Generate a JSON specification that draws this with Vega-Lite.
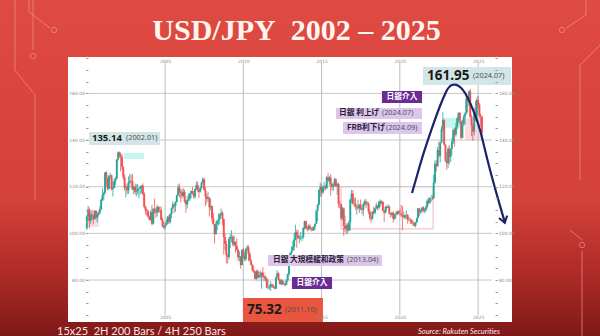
{
 "$schema": "https://vega.github.io/schema/vega-lite/v6.json",
 "width": 444, "height": 265,
 "autosize": "none",
 "padding": {"left": 68, "top": 57, "right": 88, "bottom": 14},
 "background": "#d6413a",
 "config": {"view": {"stroke": null, "fill": null}},
 "resolve": {"axis": {"x": "independent", "y": "independent"}, "scale": {"fill": "independent"}},
 "datasets": {
  "bg": [{"x": "1994-05-01", "x2": "2032-12-31", "y": 55, "y2": 201}],
  "panel": [{"x": "1998-10-19", "x2": "2027-03-03", "y": 62, "y2": 175.6}],
  "traces": [
   {"id": "L1", "i": 1, "x": "1996-04-22", "y": 200.0}, {"id": "L1", "i": 2, "x": "1996-04-22", "y": 194.9}, {"id": "L1", "i": 3, "x": "1997-08-25", "y": 188.0},
   {"id": "L2", "i": 1, "x": "1995-05-31", "y": 200.0}, {"id": "L2", "i": 2, "x": "1995-05-31", "y": 170.0}, {"id": "L2", "i": 3, "x": "1996-09-09", "y": 159.3}, {"id": "L2", "i": 4, "x": "1996-09-09", "y": 114.3},
   {"id": "L3", "i": 1, "x": "1996-07-25", "y": 200.0}, {"id": "L3", "i": 2, "x": "1996-07-25", "y": 178.6},
   {"id": "R1", "i": 1, "x": "2031-11-24", "y": 200.0}, {"id": "R1", "i": 2, "x": "2031-11-24", "y": 193.6}, {"id": "R1", "i": 3, "x": "2030-08-15", "y": 188.0},
   {"id": "R2", "i": 1, "x": "2032-10-15", "y": 180.7}, {"id": "R2", "i": 2, "x": "2031-07-07", "y": 172.2}, {"id": "R2", "i": 3, "x": "2031-07-07", "y": 122.9},
   {"id": "R3", "i": 1, "x": "2030-11-16", "y": 101.4}, {"id": "R3", "i": 2, "x": "2031-08-23", "y": 97.2},
   {"id": "R4", "i": 1, "x": "2031-08-23", "y": 92.4}, {"id": "R4", "i": 2, "x": "2031-08-23", "y": 56.0}
  ],
  "nodes": [
   {"x": "1997-11-26", "y": 187.2}, {"x": "1996-07-25", "y": 176.0}, {"x": "2030-05-14", "y": 187.2}, {"x": "2031-08-23", "y": 95.0}
  ],
  "titleText": [{"x": "2013-05-26", "y": 182.9, "t": "USD/JPY\u00a0 2002 – 2025"}],
  "zones": [
   {"x": "2000-01-20", "x2": "2000-10-10", "y": 102.7, "y2": 110.0, "k": "pink"},
   {"x": "2002-05-15", "x2": "2003-08-28", "y": 131.9, "y2": 134.4, "k": "cyan"},
   {"x": "2010-10-01", "x2": "2011-06-15", "y": 79.3, "y2": 83.4, "k": "pink"},
   {"x": "2022-10-05", "x2": "2023-11-05", "y": 145.2, "y2": 149.5, "k": "cyan"},
   {"x": "2024-03-01", "x2": "2025-04-05", "y": 140.0, "y2": 149.5, "k": "pink"}
  ],
  "outline": [{"x": "2016-04-01", "x2": "2022-02-15", "y": 101.9, "y2": 120.0}],
  "hgrid": [{"v": 80}, {"v": 100}, {"v": 120}, {"v": 140}, {"v": 160}],
  "vgrid": [{"g": "2005-01-01"}, {"g": "2010-01-01"}, {"g": "2015-01-01"}, {"g": "2020-01-01"}, {"g": "2025-01-01"}],
  "candles": [
{"d":"2000-01","o":102.2,"h":107.8,"l":101.4,"c":107.3},{"d":"2000-02","o":107.3,"h":111.8,"l":105.2,"c":110.2},{"d":"2000-03","o":110.2,"h":111.1,"l":102.1,"c":105.4},{"d":"2000-04","o":105.4,"h":108.9,"l":103.9,"c":108.1},{"d":"2000-05","o":108.1,"h":110.0,"l":105.6,"c":107.7},{"d":"2000-06","o":107.7,"h":108.0,"l":103.9,"c":106.1},{"d":"2000-07","o":106.1,"h":109.9,"l":105.8,"c":109.6},{"d":"2000-08","o":109.6,"h":109.9,"l":105.9,"c":106.7},{"d":"2000-09","o":106.7,"h":108.8,"l":104.6,"c":108.0},{"d":"2000-10","o":108.0,"h":109.3,"l":107.3,"c":108.9},{"d":"2000-11","o":108.9,"h":111.7,"l":108.2,"c":110.4},{"d":"2000-12","o":110.4,"h":114.9,"l":109.9,"c":114.4},
{"d":"2001-01","o":114.4,"h":119.3,"l":114.0,"c":116.4},{"d":"2001-02","o":116.4,"h":117.9,"l":114.0,"c":117.3},{"d":"2001-03","o":117.3,"h":126.2,"l":117.2,"c":126.1},{"d":"2001-04","o":126.1,"h":126.8,"l":120.3,"c":123.6},{"d":"2001-05","o":123.6,"h":123.9,"l":118.3,"c":119.1},{"d":"2001-06","o":119.1,"h":125.0,"l":118.8,"c":124.7},{"d":"2001-07","o":124.7,"h":126.0,"l":123.2,"c":124.9},{"d":"2001-08","o":124.9,"h":125.1,"l":118.4,"c":118.9},{"d":"2001-09","o":118.9,"h":122.2,"l":115.8,"c":119.4},{"d":"2001-10","o":119.4,"h":123.6,"l":119.3,"c":122.4},{"d":"2001-11","o":122.4,"h":124.2,"l":120.7,"c":123.5},{"d":"2001-12","o":123.5,"h":131.8,"l":123.3,"c":131.7},
{"d":"2002-01","o":131.7,"h":135.14,"l":131.2,"c":134.7},{"d":"2002-02","o":134.7,"h":135.0,"l":132.5,"c":133.6},{"d":"2002-03","o":133.6,"h":134.6,"l":126.5,"c":132.7},{"d":"2002-04","o":132.7,"h":133.9,"l":127.4,"c":128.5},{"d":"2002-05","o":128.5,"h":128.8,"l":123.1,"c":124.0},{"d":"2002-06","o":124.0,"h":125.2,"l":118.3,"c":119.6},{"d":"2002-07","o":119.6,"h":120.9,"l":115.5,"c":119.9},{"d":"2002-08","o":119.9,"h":121.4,"l":116.8,"c":118.4},{"d":"2002-09","o":118.4,"h":124.4,"l":116.9,"c":121.8},{"d":"2002-10","o":121.8,"h":125.6,"l":121.3,"c":122.5},{"d":"2002-11","o":122.5,"h":125.0,"l":119.8,"c":122.4},{"d":"2002-12","o":122.4,"h":125.6,"l":118.4,"c":118.8},
{"d":"2003-01","o":118.8,"h":120.3,"l":116.8,"c":119.9},{"d":"2003-02","o":119.9,"h":121.4,"l":116.7,"c":117.8},{"d":"2003-03","o":117.8,"h":121.0,"l":115.8,"c":118.1},{"d":"2003-04","o":118.1,"h":121.2,"l":116.6,"c":119.0},{"d":"2003-05","o":119.0,"h":119.7,"l":115.0,"c":119.1},{"d":"2003-06","o":119.1,"h":120.5,"l":116.6,"c":119.8},{"d":"2003-07","o":119.8,"h":120.6,"l":117.2,"c":120.5},{"d":"2003-08","o":120.5,"h":121.4,"l":116.3,"c":116.9},{"d":"2003-09","o":116.9,"h":117.8,"l":110.9,"c":111.4},{"d":"2003-10","o":111.4,"h":111.9,"l":107.9,"c":109.9},{"d":"2003-11","o":109.9,"h":110.6,"l":107.6,"c":109.5},{"d":"2003-12","o":109.5,"h":109.9,"l":106.7,"c":107.2},
{"d":"2004-01","o":107.2,"h":107.5,"l":105.5,"c":105.9},{"d":"2004-02","o":105.9,"h":110.0,"l":105.4,"c":109.1},{"d":"2004-03","o":109.1,"h":112.2,"l":103.4,"c":104.2},{"d":"2004-04","o":104.2,"h":110.7,"l":103.8,"c":110.5},{"d":"2004-05","o":110.5,"h":114.9,"l":108.4,"c":109.4},{"d":"2004-06","o":109.4,"h":110.9,"l":106.6,"c":108.9},{"d":"2004-07","o":108.9,"h":112.3,"l":107.3,"c":111.3},{"d":"2004-08","o":111.3,"h":111.7,"l":108.8,"c":109.8},{"d":"2004-09","o":109.8,"h":111.5,"l":108.8,"c":110.0},{"d":"2004-10","o":110.0,"h":111.5,"l":105.6,"c":105.8},{"d":"2004-11","o":105.8,"h":106.8,"l":102.5,"c":103.1},{"d":"2004-12","o":103.1,"h":105.0,"l":101.8,"c":102.6},
{"d":"2005-01","o":102.6,"h":104.7,"l":101.7,"c":103.6},{"d":"2005-02","o":103.6,"h":106.0,"l":103.3,"c":104.6},{"d":"2005-03","o":104.6,"h":107.4,"l":103.9,"c":107.1},{"d":"2005-04","o":107.1,"h":108.0,"l":104.0,"c":105.0},{"d":"2005-05","o":105.0,"h":108.6,"l":104.2,"c":108.3},{"d":"2005-06","o":108.3,"h":111.0,"l":106.6,"c":110.9},{"d":"2005-07","o":110.9,"h":113.7,"l":110.4,"c":112.4},{"d":"2005-08","o":112.4,"h":112.8,"l":108.7,"c":111.9},{"d":"2005-09","o":111.9,"h":113.7,"l":109.3,"c":113.5},{"d":"2005-10","o":113.5,"h":116.5,"l":113.2,"c":116.4},{"d":"2005-11","o":116.4,"h":121.0,"l":116.1,"c":119.7},{"d":"2005-12","o":119.7,"h":121.4,"l":115.3,"c":117.9},
{"d":"2006-01","o":117.9,"h":118.9,"l":113.4,"c":117.3},{"d":"2006-02","o":117.3,"h":119.0,"l":115.0,"c":116.0},{"d":"2006-03","o":116.0,"h":119.4,"l":115.6,"c":117.8},{"d":"2006-04","o":117.8,"h":118.7,"l":113.1,"c":113.8},{"d":"2006-05","o":113.8,"h":114.4,"l":108.9,"c":112.4},{"d":"2006-06","o":112.4,"h":116.0,"l":110.6,"c":114.4},{"d":"2006-07","o":114.4,"h":117.0,"l":113.7,"c":114.7},{"d":"2006-08","o":114.7,"h":117.4,"l":113.9,"c":117.2},{"d":"2006-09","o":117.2,"h":118.4,"l":115.1,"c":118.1},{"d":"2006-10","o":118.1,"h":119.9,"l":116.7,"c":116.9},{"d":"2006-11","o":116.9,"h":118.1,"l":114.8,"c":115.8},{"d":"2006-12","o":115.8,"h":119.1,"l":114.9,"c":119.0},
{"d":"2007-01","o":119.0,"h":122.2,"l":118.5,"c":120.7},{"d":"2007-02","o":120.7,"h":122.2,"l":117.6,"c":118.6},{"d":"2007-03","o":118.6,"h":118.8,"l":115.1,"c":117.8},{"d":"2007-04","o":117.8,"h":120.0,"l":117.4,"c":119.5},{"d":"2007-05","o":119.5,"h":122.2,"l":118.8,"c":121.7},{"d":"2007-06","o":121.7,"h":124.14,"l":121.4,"c":123.2},{"d":"2007-07","o":123.2,"h":123.7,"l":118.3,"c":118.6},{"d":"2007-08","o":118.6,"h":119.8,"l":111.6,"c":115.8},{"d":"2007-09","o":115.8,"h":117.0,"l":112.8,"c":114.8},{"d":"2007-10","o":114.8,"h":117.9,"l":113.7,"c":115.3},{"d":"2007-11","o":115.3,"h":115.6,"l":107.2,"c":111.2},{"d":"2007-12","o":111.2,"h":114.7,"l":109.9,"c":111.7},
{"d":"2008-01","o":111.7,"h":111.9,"l":104.9,"c":106.4},{"d":"2008-02","o":106.4,"h":108.8,"l":103.8,"c":103.9},{"d":"2008-03","o":103.9,"h":104.0,"l":95.7,"c":99.7},{"d":"2008-04","o":99.7,"h":105.0,"l":99.4,"c":104.0},{"d":"2008-05","o":104.0,"h":105.6,"l":101.4,"c":105.5},{"d":"2008-06","o":105.5,"h":108.6,"l":103.4,"c":106.2},{"d":"2008-07","o":106.2,"h":108.6,"l":103.8,"c":108.0},{"d":"2008-08","o":108.0,"h":110.7,"l":107.4,"c":108.8},{"d":"2008-09","o":108.8,"h":109.5,"l":103.5,"c":106.1},{"d":"2008-10","o":106.1,"h":106.4,"l":90.9,"c":98.4},{"d":"2008-11","o":98.4,"h":100.0,"l":92.7,"c":95.4},{"d":"2008-12","o":95.4,"h":96.8,"l":87.1,"c":90.6},
{"d":"2009-01","o":90.6,"h":91.0,"l":87.1,"c":89.9},{"d":"2009-02","o":89.9,"h":98.3,"l":88.9,"c":97.6},{"d":"2009-03","o":97.6,"h":99.7,"l":93.7,"c":98.4},{"d":"2009-04","o":98.4,"h":101.4,"l":96.2,"c":98.5},{"d":"2009-05","o":98.5,"h":99.2,"l":94.5,"c":95.3},{"d":"2009-06","o":95.3,"h":98.9,"l":94.4,"c":96.4},{"d":"2009-07","o":96.4,"h":96.5,"l":91.7,"c":94.7},{"d":"2009-08","o":94.7,"h":97.8,"l":92.6,"c":93.0},{"d":"2009-09","o":93.0,"h":93.4,"l":88.2,"c":89.7},{"d":"2009-10","o":89.7,"h":92.3,"l":88.0,"c":90.1},{"d":"2009-11","o":90.1,"h":90.4,"l":84.8,"c":86.4},{"d":"2009-12","o":86.4,"h":93.1,"l":86.3,"c":93.0},
{"d":"2010-01","o":93.0,"h":93.8,"l":89.2,"c":90.3},{"d":"2010-02","o":90.3,"h":91.8,"l":88.1,"c":88.9},{"d":"2010-03","o":88.9,"h":93.5,"l":88.1,"c":93.4},{"d":"2010-04","o":93.4,"h":95.0,"l":92.4,"c":94.0},{"d":"2010-05","o":94.0,"h":94.9,"l":88.0,"c":91.2},{"d":"2010-06","o":91.2,"h":92.3,"l":88.1,"c":88.4},{"d":"2010-07","o":88.4,"h":88.9,"l":86.2,"c":86.5},{"d":"2010-08","o":86.5,"h":86.8,"l":83.6,"c":84.2},{"d":"2010-09","o":84.2,"h":85.9,"l":82.9,"c":83.5},{"d":"2010-10","o":83.5,"h":83.7,"l":80.3,"c":80.4},{"d":"2010-11","o":80.4,"h":84.4,"l":80.2,"c":83.7},{"d":"2010-12","o":83.7,"h":84.5,"l":80.9,"c":81.1},
{"d":"2011-01","o":81.1,"h":83.7,"l":81.0,"c":82.1},{"d":"2011-02","o":82.1,"h":84.0,"l":81.1,"c":81.8},{"d":"2011-03","o":81.8,"h":83.3,"l":76.3,"c":83.1},{"d":"2011-04","o":83.1,"h":85.5,"l":81.2,"c":81.2},{"d":"2011-05","o":81.2,"h":82.0,"l":79.6,"c":81.5},{"d":"2011-06","o":81.5,"h":81.6,"l":79.7,"c":80.5},{"d":"2011-07","o":80.5,"h":81.0,"l":76.5,"c":76.7},{"d":"2011-08","o":76.7,"h":80.2,"l":75.9,"c":76.7},{"d":"2011-09","o":76.7,"h":77.9,"l":75.8,"c":77.0},{"d":"2011-10","o":77.0,"h":79.5,"l":75.32,"c":78.2},{"d":"2011-11","o":78.2,"h":78.3,"l":76.6,"c":77.6},{"d":"2011-12","o":77.6,"h":78.3,"l":76.6,"c":76.9},
{"d":"2012-01","o":76.9,"h":77.3,"l":76.1,"c":76.3},{"d":"2012-02","o":76.3,"h":81.3,"l":76.1,"c":81.2},{"d":"2012-03","o":81.2,"h":84.2,"l":80.9,"c":82.8},{"d":"2012-04","o":82.8,"h":83.3,"l":79.8,"c":80.0},{"d":"2012-05","o":80.0,"h":80.4,"l":78.1,"c":78.3},{"d":"2012-06","o":78.3,"h":80.6,"l":77.7,"c":79.8},{"d":"2012-07","o":79.8,"h":80.1,"l":77.9,"c":78.1},{"d":"2012-08","o":78.1,"h":79.7,"l":78.0,"c":78.4},{"d":"2012-09","o":78.4,"h":78.9,"l":77.1,"c":77.9},{"d":"2012-10","o":77.9,"h":80.3,"l":77.8,"c":79.8},{"d":"2012-11","o":79.8,"h":82.8,"l":79.1,"c":82.5},{"d":"2012-12","o":82.5,"h":86.8,"l":81.7,"c":86.7},
{"d":"2013-01","o":86.7,"h":91.8,"l":86.5,"c":91.7},{"d":"2013-02","o":91.7,"h":94.5,"l":90.9,"c":92.6},{"d":"2013-03","o":92.6,"h":96.7,"l":92.6,"c":94.2},{"d":"2013-04","o":94.2,"h":99.9,"l":92.6,"c":97.4},{"d":"2013-05","o":97.4,"h":103.7,"l":97.0,"c":100.5},{"d":"2013-06","o":100.5,"h":101.5,"l":93.8,"c":99.1},{"d":"2013-07","o":99.1,"h":101.5,"l":97.6,"c":97.9},{"d":"2013-08","o":97.9,"h":99.3,"l":95.8,"c":98.2},{"d":"2013-09","o":98.2,"h":100.6,"l":97.1,"c":98.3},{"d":"2013-10","o":98.3,"h":99.0,"l":96.6,"c":98.4},{"d":"2013-11","o":98.4,"h":102.6,"l":97.6,"c":102.4},{"d":"2013-12","o":102.4,"h":105.4,"l":101.6,"c":105.3},
{"d":"2014-01","o":105.3,"h":105.4,"l":101.8,"c":102.0},{"d":"2014-02","o":102.0,"h":102.8,"l":100.8,"c":101.8},{"d":"2014-03","o":101.8,"h":103.8,"l":101.2,"c":103.2},{"d":"2014-04","o":103.2,"h":104.1,"l":101.4,"c":102.2},{"d":"2014-05","o":102.2,"h":102.8,"l":100.8,"c":101.8},{"d":"2014-06","o":101.8,"h":102.8,"l":101.1,"c":101.3},{"d":"2014-07","o":101.3,"h":103.1,"l":101.1,"c":102.8},{"d":"2014-08","o":102.8,"h":104.2,"l":101.5,"c":104.1},{"d":"2014-09","o":104.1,"h":110.1,"l":104.0,"c":109.7},{"d":"2014-10","o":109.7,"h":112.5,"l":105.2,"c":112.3},{"d":"2014-11","o":112.3,"h":118.9,"l":112.0,"c":118.6},{"d":"2014-12","o":118.6,"h":121.8,"l":115.6,"c":119.8},
{"d":"2015-01","o":119.8,"h":121.0,"l":115.9,"c":117.5},{"d":"2015-02","o":117.5,"h":120.5,"l":116.9,"c":119.6},{"d":"2015-03","o":119.6,"h":122.0,"l":118.3,"c":120.1},{"d":"2015-04","o":120.1,"h":120.8,"l":118.5,"c":119.4},{"d":"2015-05","o":119.4,"h":124.5,"l":118.9,"c":124.1},{"d":"2015-06","o":124.1,"h":125.86,"l":122.0,"c":122.5},{"d":"2015-07","o":122.5,"h":124.6,"l":120.4,"c":123.9},{"d":"2015-08","o":123.9,"h":125.3,"l":116.2,"c":121.2},{"d":"2015-09","o":121.2,"h":121.8,"l":118.6,"c":119.9},{"d":"2015-10","o":119.9,"h":121.5,"l":118.1,"c":120.6},{"d":"2015-11","o":120.6,"h":123.8,"l":120.2,"c":123.1},{"d":"2015-12","o":123.1,"h":123.7,"l":119.9,"c":120.2},
{"d":"2016-01","o":120.2,"h":121.7,"l":116.5,"c":121.1},{"d":"2016-02","o":121.1,"h":121.7,"l":111.0,"c":112.7},{"d":"2016-03","o":112.7,"h":114.0,"l":110.7,"c":112.6},{"d":"2016-04","o":112.6,"h":112.7,"l":105.6,"c":106.5},{"d":"2016-05","o":106.5,"h":111.4,"l":105.6,"c":110.7},{"d":"2016-06","o":110.7,"h":111.1,"l":99.0,"c":103.2},{"d":"2016-07","o":103.2,"h":107.5,"l":100.7,"c":102.1},{"d":"2016-08","o":102.1,"h":104.3,"l":99.6,"c":103.4},{"d":"2016-09","o":103.4,"h":104.3,"l":100.1,"c":101.3},{"d":"2016-10","o":101.3,"h":105.5,"l":100.9,"c":104.8},{"d":"2016-11","o":104.8,"h":114.8,"l":101.2,"c":114.5},{"d":"2016-12","o":114.5,"h":118.7,"l":112.9,"c":117.0},
{"d":"2017-01","o":117.0,"h":118.6,"l":112.1,"c":112.8},{"d":"2017-02","o":112.8,"h":115.0,"l":111.6,"c":112.8},{"d":"2017-03","o":112.8,"h":115.5,"l":110.1,"c":111.4},{"d":"2017-04","o":111.4,"h":112.2,"l":108.1,"c":111.5},{"d":"2017-05","o":111.5,"h":114.4,"l":110.2,"c":110.8},{"d":"2017-06","o":110.8,"h":112.5,"l":108.8,"c":112.4},{"d":"2017-07","o":112.4,"h":114.5,"l":110.0,"c":110.3},{"d":"2017-08","o":110.3,"h":111.0,"l":108.3,"c":110.0},{"d":"2017-09","o":110.0,"h":113.2,"l":107.3,"c":112.5},{"d":"2017-10","o":112.5,"h":114.5,"l":111.7,"c":113.6},{"d":"2017-11","o":113.6,"h":114.7,"l":110.8,"c":112.5},{"d":"2017-12","o":112.5,"h":113.8,"l":111.9,"c":112.7},
{"d":"2018-01","o":112.7,"h":113.4,"l":108.3,"c":109.2},{"d":"2018-02","o":109.2,"h":110.5,"l":105.6,"c":106.7},{"d":"2018-03","o":106.7,"h":107.3,"l":104.6,"c":106.3},{"d":"2018-04","o":106.3,"h":109.6,"l":105.7,"c":109.3},{"d":"2018-05","o":109.3,"h":111.4,"l":108.1,"c":108.8},{"d":"2018-06","o":108.8,"h":110.9,"l":108.1,"c":110.7},{"d":"2018-07","o":110.7,"h":113.2,"l":110.3,"c":111.9},{"d":"2018-08","o":111.9,"h":112.2,"l":109.8,"c":111.0},{"d":"2018-09","o":111.0,"h":114.0,"l":110.4,"c":113.7},{"d":"2018-10","o":113.7,"h":114.6,"l":111.4,"c":112.9},{"d":"2018-11","o":112.9,"h":114.2,"l":112.3,"c":113.5},{"d":"2018-12","o":113.5,"h":113.8,"l":109.6,"c":109.7},
{"d":"2019-01","o":109.7,"h":110.0,"l":104.9,"c":108.9},{"d":"2019-02","o":108.9,"h":111.5,"l":108.5,"c":111.4},{"d":"2019-03","o":111.4,"h":112.1,"l":109.7,"c":110.9},{"d":"2019-04","o":110.9,"h":112.4,"l":110.8,"c":111.4},{"d":"2019-05","o":111.4,"h":112.0,"l":108.3,"c":108.3},{"d":"2019-06","o":108.3,"h":108.8,"l":106.8,"c":107.9},{"d":"2019-07","o":107.9,"h":109.3,"l":107.2,"c":108.8},{"d":"2019-08","o":108.8,"h":109.3,"l":104.5,"c":106.3},{"d":"2019-09","o":106.3,"h":108.5,"l":105.7,"c":108.1},{"d":"2019-10","o":108.1,"h":109.3,"l":106.5,"c":108.0},{"d":"2019-11","o":108.0,"h":109.7,"l":107.9,"c":109.5},{"d":"2019-12","o":109.5,"h":109.7,"l":108.4,"c":108.6},
{"d":"2020-01","o":108.6,"h":110.3,"l":107.7,"c":108.4},{"d":"2020-02","o":108.4,"h":112.2,"l":107.0,"c":107.9},{"d":"2020-03","o":107.9,"h":111.7,"l":101.2,"c":107.5},{"d":"2020-04","o":107.5,"h":109.4,"l":106.4,"c":106.9},{"d":"2020-05","o":106.9,"h":108.1,"l":106.0,"c":107.8},{"d":"2020-06","o":107.8,"h":109.9,"l":106.1,"c":107.9},{"d":"2020-07","o":107.9,"h":108.2,"l":104.2,"c":105.9},{"d":"2020-08","o":105.9,"h":107.1,"l":105.1,"c":105.9},{"d":"2020-09","o":105.9,"h":106.6,"l":104.0,"c":105.5},{"d":"2020-10","o":105.5,"h":106.1,"l":104.0,"c":104.7},{"d":"2020-11","o":104.7,"h":105.7,"l":103.2,"c":104.3},{"d":"2020-12","o":104.3,"h":104.8,"l":102.9,"c":103.3},
{"d":"2021-01","o":103.3,"h":104.9,"l":102.6,"c":104.7},{"d":"2021-02","o":104.7,"h":106.7,"l":104.4,"c":106.6},{"d":"2021-03","o":106.6,"h":110.9,"l":106.4,"c":110.7},{"d":"2021-04","o":110.7,"h":110.9,"l":107.5,"c":109.3},{"d":"2021-05","o":109.3,"h":110.2,"l":108.3,"c":109.6},{"d":"2021-06","o":109.6,"h":111.2,"l":108.6,"c":111.1},{"d":"2021-07","o":111.1,"h":111.7,"l":109.1,"c":109.7},{"d":"2021-08","o":109.7,"h":110.8,"l":108.7,"c":110.0},{"d":"2021-09","o":110.0,"h":112.1,"l":109.1,"c":111.3},{"d":"2021-10","o":111.3,"h":114.7,"l":110.8,"c":114.0},{"d":"2021-11","o":114.0,"h":115.5,"l":112.5,"c":113.2},{"d":"2021-12","o":113.2,"h":115.2,"l":112.6,"c":115.1},
{"d":"2022-01","o":115.1,"h":116.4,"l":113.5,"c":115.1},{"d":"2022-02","o":115.1,"h":116.3,"l":114.2,"c":115.0},{"d":"2022-03","o":115.0,"h":125.1,"l":114.7,"c":121.7},{"d":"2022-04","o":121.7,"h":131.3,"l":121.3,"c":129.8},{"d":"2022-05","o":129.8,"h":131.3,"l":126.4,"c":128.7},{"d":"2022-06","o":128.7,"h":137.0,"l":128.6,"c":135.7},{"d":"2022-07","o":135.7,"h":139.4,"l":132.5,"c":133.2},{"d":"2022-08","o":133.2,"h":139.1,"l":130.4,"c":138.9},{"d":"2022-09","o":138.9,"h":145.9,"l":138.8,"c":144.7},{"d":"2022-10","o":144.7,"h":151.95,"l":143.5,"c":148.7},{"d":"2022-11","o":148.7,"h":148.8,"l":137.5,"c":138.1},{"d":"2022-12","o":138.1,"h":138.2,"l":130.6,"c":131.1},
{"d":"2023-01","o":131.1,"h":134.8,"l":127.2,"c":130.1},{"d":"2023-02","o":130.1,"h":137.1,"l":128.1,"c":136.2},{"d":"2023-03","o":136.2,"h":137.9,"l":129.6,"c":132.8},{"d":"2023-04","o":132.8,"h":136.6,"l":130.6,"c":136.3},{"d":"2023-05","o":136.3,"h":140.9,"l":133.5,"c":139.3},{"d":"2023-06","o":139.3,"h":145.1,"l":138.4,"c":144.3},{"d":"2023-07","o":144.3,"h":145.1,"l":137.2,"c":142.3},{"d":"2023-08","o":142.3,"h":147.4,"l":141.5,"c":145.5},{"d":"2023-09","o":145.5,"h":149.7,"l":144.4,"c":149.4},{"d":"2023-10","o":149.4,"h":151.8,"l":147.3,"c":151.7},{"d":"2023-11","o":151.7,"h":151.9,"l":146.7,"c":148.2},{"d":"2023-12","o":148.2,"h":148.3,"l":140.3,"c":141.0},
{"d":"2024-01","o":141.0,"h":148.8,"l":140.8,"c":146.9},{"d":"2024-02","o":146.9,"h":150.9,"l":145.9,"c":150.0},{"d":"2024-03","o":150.0,"h":151.97,"l":146.5,"c":151.3},{"d":"2024-04","o":151.3,"h":160.2,"l":151.0,"c":157.8},{"d":"2024-05","o":157.8,"h":157.99,"l":151.9,"c":157.3},{"d":"2024-06","o":157.3,"h":161.3,"l":154.5,"c":160.9},{"d":"2024-07","o":160.9,"h":161.95,"l":149.6,"c":150.0},{"d":"2024-08","o":150.0,"h":150.9,"l":141.7,"c":146.2},{"d":"2024-09","o":146.2,"h":147.2,"l":139.6,"c":143.6},{"d":"2024-10","o":143.6,"h":153.9,"l":142.0,"c":152.0},{"d":"2024-11","o":152.0,"h":156.7,"l":148.0,"c":149.8},{"d":"2024-12","o":149.8,"h":158.1,"l":148.6,"c":157.2},
{"d":"2025-01","o":157.2,"h":158.9,"l":153.7,"c":155.2},{"d":"2025-02","o":155.2,"h":155.9,"l":149.5,"c":150.6},{"d":"2025-03","o":150.6,"h":151.3,"l":145.9,"c":149.9},{"d":"2025-04","o":149.9,"h":150.5,"l":139.9,"c":143.1}
  ],
  "boxes": [
   {"x": "2000-02-20", "x2": "2004-09-05", "y": 137.9, "y2": 143.45, "k": "price"},
   {"x": "2021-06-24", "x2": "2027-02-10", "y": 163.6, "y2": 171.3, "k": "price"},
   {"x": "2018-11-10", "x2": "2021-06-02", "y": 155.9, "y2": 161.0, "k": "intervention"},
   {"x": "2015-12-03", "x2": "2021-06-02", "y": 149.0, "y2": 153.7, "k": "policy"},
   {"x": "2016-05-15", "x2": "2021-06-02", "y": 142.6, "y2": 147.7, "k": "policy"},
   {"x": "2011-07-30", "x2": "2018-11-10", "y": 86.0, "y2": 90.7, "k": "policy"},
   {"x": "2013-02-09", "x2": "2015-09-02", "y": 76.1, "y2": 81.3, "k": "intervention"},
   {"x": "2009-12-24", "x2": "2015-02-02", "y": 62.0, "y2": 72.3, "k": "low"}
  ],
  "numSmall": [{"x": "2000-05-01", "y": 140.7, "t": "135.14"}],
  "numBig": [{"x": "2021-09-27", "y": 167.5, "t": "161.95"}, {"x": "2010-03-29", "y": 67.0, "t": "75.32"}],
  "paren": [
   {"x": "2002-07-05", "y": 140.7, "t": "(2002.01)"},
   {"x": "2024-09-06", "y": 167.5, "t": "(2024.07)"},
   {"x": "2018-11-10", "y": 151.4, "t": "(2024.07)"},
   {"x": "2019-02-14", "y": 145.2, "t": "(2024.09)"},
   {"x": "2016-08-18", "y": 88.4, "t": "(2013.04)"},
   {"x": "2012-09-02", "y": 67.0, "t": "(2011.10)"}
  ],
  "cjk": [
   {"x": "2016-02-14", "y": 151.4, "t": "日銀 利上げ"},
   {"x": "2016-08-18", "y": 145.2, "t": "FRB利下げ"},
   {"x": "2011-11-24", "y": 88.4, "t": "日銀 大規模緩和政策"}
  ],
  "interv": [{"x": "2020-02-20", "y": 158.5, "t": "日銀介入"}, {"x": "2014-05-22", "y": 78.7, "t": "日銀介入"}],
  "arc": [
   {"x": "2020-10-12", "y": 117.3}, {"x": "2021-03-01", "y": 126.3}, {"x": "2021-07-19", "y": 134.9},
   {"x": "2022-01-22", "y": 145.2}, {"x": "2022-07-27", "y": 154.6}, {"x": "2022-12-14", "y": 160.6},
   {"x": "2023-05-04", "y": 163.6}, {"x": "2024-01-15", "y": 161.4}, {"x": "2024-09-05", "y": 152.9},
   {"x": "2025-02-15", "y": 144.3}, {"x": "2025-08-20", "y": 130.6}, {"x": "2026-03-17", "y": 116.4},
   {"x": "2026-09-21", "y": 104.4}
  ],
  "arrow": [{"x": "2026-08-28", "y": 105.7}],
  "caption": [{"x": "1998-02-05", "y": 57.7, "t": "15x25\u00a0 2H 200 Bars / 4H 250 Bars"}],
  "source": [{"x": "2026-05-26", "y": 57.7, "t": "Source: Rakuten Securities"}]
 },
 "layer": [
  {"data": {"name": "bg"},
   "mark": {"type": "rect", "clip": false, "fill": {"gradient": "linear", "x1": 0, "y1": 0, "x2": 0, "y2": 1, "stops": [{"offset": 0, "color": "#df4a42"}, {"offset": 0.6, "color": "#d4403a"}, {"offset": 0.82, "color": "#ac2a26"}, {"offset": 1, "color": "#7d1818"}]}},
   "encoding": {
    "x": {"field": "x", "type": "temporal", "scale": {"type": "utc", "domain": [{"year": 1998, "month": 10, "date": 19, "utc": true}, {"year": 2027, "month": 3, "date": 3, "utc": true}], "nice": false}, "axis": null},
    "x2": {"field": "x2"},
    "y": {"field": "y", "type": "quantitative", "scale": {"domain": [62, 175.6], "nice": false, "zero": false}, "axis": null},
    "y2": {"field": "y2"}}},
  {"data": {"name": "traces"},
   "mark": {"type": "line", "clip": false, "color": "#f09088", "strokeWidth": 1, "opacity": 0.7},
   "encoding": {
    "x": {"field": "x", "type": "temporal", "axis": null},
    "y": {"field": "y", "type": "quantitative", "axis": null},
    "detail": {"field": "id"},
    "order": {"field": "i"}}},
  {"data": {"name": "nodes"},
   "mark": {"type": "point", "clip": false, "filled": false, "stroke": "#f09088", "strokeWidth": 1, "size": 30, "opacity": 0.7},
   "encoding": {
    "x": {"field": "x", "type": "temporal", "axis": null},
    "y": {"field": "y", "type": "quantitative", "axis": null}}},
  {"data": {"name": "titleText"},
   "mark": {"type": "text", "clip": false, "align": "center", "baseline": "alphabetic", "font": "Liberation Serif", "fontSize": 30, "fontWeight": "bold", "color": "#fff4ee"},
   "encoding": {"x": {"field": "x", "type": "temporal", "axis": null}, "y": {"field": "y", "type": "quantitative", "axis": null}, "text": {"field": "t"}}},
  {"data": {"name": "panel"},
   "mark": {"type": "rect", "fill": "#ffffff"},
   "encoding": {
    "x": {"field": "x", "type": "temporal", "axis": null}, "x2": {"field": "x2"},
    "y": {"field": "y", "type": "quantitative", "axis": null}, "y2": {"field": "y2"}}},
  {"data": {"name": "zones"},
   "mark": {"type": "rect", "opacity": 0.55},
   "encoding": {
    "x": {"field": "x", "type": "temporal", "axis": null}, "x2": {"field": "x2"},
    "y": {"field": "y", "type": "quantitative", "axis": null}, "y2": {"field": "y2"},
    "fill": {"field": "k", "type": "nominal", "scale": {"domain": ["pink", "cyan"], "range": ["#f7bfd0", "#93efe0"]}, "legend": null}}},
  {"data": {"name": "outline"},
   "mark": {"type": "rect", "fill": null, "fillOpacity": 0, "stroke": "#f2b3c2", "strokeWidth": 1},
   "encoding": {
    "x": {"field": "x", "type": "temporal", "axis": null}, "x2": {"field": "x2"},
    "y": {"field": "y", "type": "quantitative", "axis": null}, "y2": {"field": "y2"}}},
  {"data": {"name": "hgrid"},
   "mark": {"type": "rule", "color": "#c8c8c8", "strokeWidth": 1},
   "encoding": {
    "y": {"field": "v", "type": "quantitative", "axis": {"orient": "left", "offset": -20, "values": [65,70,75,80,85,90,95,100,105,110,115,120,125,130,135,140,145,150,155,160,165,170,175], "labelExpr": "datum.value % 20 === 0 ? format(datum.value, '.2f') : ''", "labelFontSize": 4.5, "labelColor": "#8a8a8a", "labelFont": "DejaVu Sans", "labelPadding": 1, "labelOverlap": false, "tickSize": 2.5, "tickColor": "#a0a0a0", "domain": false, "grid": false, "title": null, "zindex": 1}},
    "x": {"datum": {"year": 1999, "month": 12, "date": 13, "utc": true}, "type": "temporal", "axis": null},
    "x2": {"datum": {"year": 2025, "month": 11, "date": 20, "utc": true}}}},
  {"data": {"name": "vgrid"},
   "mark": {"type": "rule", "color": "#bdbdbd", "strokeWidth": 1},
   "encoding": {
    "x": {"field": "g", "type": "temporal", "axis": {"orient": "bottom", "offset": -9, "values": [{"year": 2005, "utc": true}, {"year": 2015, "utc": true}, {"year": 2020, "utc": true}, {"year": 2025, "utc": true}], "format": "%Y", "labelFontSize": 4.5, "labelColor": "#8a8a8a", "labelFont": "DejaVu Sans", "labelPadding": 1, "ticks": false, "domain": false, "grid": false, "title": null, "zindex": 1}},
    "y": {"datum": 65, "type": "quantitative", "axis": null},
    "y2": {"datum": 173}}},
  {"data": {"name": "candles"},
   "mark": {"type": "rule", "strokeWidth": 0.8},
   "encoding": {
    "x": {"field": "d", "type": "temporal", "axis": {"orient": "top", "offset": -7, "values": [{"year": 2005, "utc": true}, {"year": 2010, "utc": true}, {"year": 2015, "utc": true}, {"year": 2020, "utc": true}, {"year": 2025, "utc": true}], "format": "%Y", "labelFontSize": 4.5, "labelColor": "#8a8a8a", "labelFont": "DejaVu Sans", "labelPadding": 1, "ticks": false, "domain": false, "grid": false, "title": null, "zindex": 1}},
    "y": {"field": "l", "type": "quantitative", "axis": {"orient": "right", "offset": -17, "values": [65,70,75,80,85,90,95,100,105,110,115,120,125,130,135,140,145,150,155,160,165,170,175], "labelExpr": "datum.value % 20 === 0 ? format(datum.value, '.2f') : ''", "labelFontSize": 4.5, "labelColor": "#8a8a8a", "labelFont": "DejaVu Sans", "labelPadding": 1, "labelOverlap": false, "tickSize": 2.5, "tickColor": "#a0a0a0", "domain": false, "grid": false, "title": null, "zindex": 1}},
    "y2": {"field": "h"},
    "color": {"condition": {"test": "datum.c >= datum.o", "value": "#26a69a"}, "value": "#ef5350"}}},
  {"data": {"name": "candles"},
   "mark": {"type": "rule", "strokeWidth": 1.9},
   "encoding": {
    "x": {"field": "d", "type": "temporal", "axis": null},
    "y": {"field": "o", "type": "quantitative", "axis": null},
    "y2": {"field": "c"},
    "color": {"condition": {"test": "datum.c >= datum.o", "value": "#26a69a"}, "value": "#ef5350"}}},
  {"data": {"name": "boxes"},
   "mark": {"type": "rect", "clip": false},
   "encoding": {
    "x": {"field": "x", "type": "temporal", "axis": null}, "x2": {"field": "x2"},
    "y": {"field": "y", "type": "quantitative", "axis": null}, "y2": {"field": "y2"},
    "fill": {"field": "k", "type": "nominal", "scale": {"domain": ["price", "intervention", "policy", "low"], "range": ["#d3e6e7", "#6a2c94", "#dcc6ec", "#e9553f"]}, "legend": null}}},
  {"data": {"name": "numSmall"},
   "mark": {"type": "text", "align": "left", "baseline": "middle", "font": "Noto Sans", "fontWeight": "bold", "fontSize": 9.5, "color": "#1a1a1a"},
   "encoding": {"x": {"field": "x", "type": "temporal", "axis": null}, "y": {"field": "y", "type": "quantitative", "axis": null}, "text": {"field": "t"}}},
  {"data": {"name": "numBig"},
   "mark": {"type": "text", "align": "left", "baseline": "middle", "font": "Noto Sans", "fontWeight": "bold", "fontSize": 13.5, "color": "#1a1a1a"},
   "encoding": {"x": {"field": "x", "type": "temporal", "axis": null}, "y": {"field": "y", "type": "quantitative", "axis": null}, "text": {"field": "t"}}},
  {"data": {"name": "paren"},
   "mark": {"type": "text", "align": "left", "baseline": "middle", "font": "Noto Sans", "fontSize": 7.3, "color": "#505050"},
   "encoding": {"x": {"field": "x", "type": "temporal", "axis": null}, "y": {"field": "y", "type": "quantitative", "axis": null}, "text": {"field": "t"}}},
  {"data": {"name": "cjk"},
   "mark": {"type": "text", "align": "left", "baseline": "middle", "font": "Noto Sans CJK JP", "fontWeight": "bold", "fontSize": 7.7, "color": "#2a1c34"},
   "encoding": {"x": {"field": "x", "type": "temporal", "axis": null}, "y": {"field": "y", "type": "quantitative", "axis": null}, "text": {"field": "t"}}},
  {"data": {"name": "interv"},
   "mark": {"type": "text", "align": "center", "baseline": "middle", "font": "Noto Sans CJK JP", "fontWeight": "bold", "fontSize": 7.7, "color": "#ffffff"},
   "encoding": {"x": {"field": "x", "type": "temporal", "axis": null}, "y": {"field": "y", "type": "quantitative", "axis": null}, "text": {"field": "t"}}},
  {"data": {"name": "arc"},
   "mark": {"type": "line", "interpolate": "natural", "color": "#1b2266", "strokeWidth": 2.2, "clip": false},
   "encoding": {"x": {"field": "x", "type": "temporal", "axis": null}, "y": {"field": "y", "type": "quantitative", "axis": null}}},
  {"data": {"name": "arrow"},
   "mark": {"type": "point", "shape": "M-0.9,-0.7L0,0.6L0.9,-0.7", "filled": false, "stroke": "#1b2266", "strokeWidth": 2, "size": 90, "angle": 344, "opacity": 1, "clip": false},
   "encoding": {"x": {"field": "x", "type": "temporal", "axis": null}, "y": {"field": "y", "type": "quantitative", "axis": null}}},
  {"data": {"name": "caption"},
   "mark": {"type": "text", "align": "left", "baseline": "middle", "font": "Lato", "fontSize": 11, "color": "#f6e6e4", "clip": false},
   "encoding": {"x": {"field": "x", "type": "temporal", "axis": null}, "y": {"field": "y", "type": "quantitative", "axis": null}, "text": {"field": "t"}}},
  {"data": {"name": "source"},
   "mark": {"type": "text", "align": "right", "baseline": "middle", "font": "Lato", "fontStyle": "italic", "fontSize": 7.5, "color": "#f6e6e4", "clip": false},
   "encoding": {"x": {"field": "x", "type": "temporal", "axis": null}, "y": {"field": "y", "type": "quantitative", "axis": null}, "text": {"field": "t"}}}
 ]
}
